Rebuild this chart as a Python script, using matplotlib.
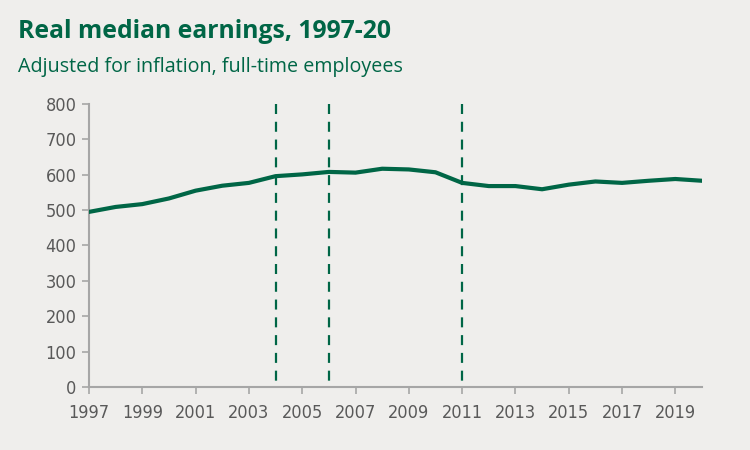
import matplotlib
matplotlib.use("Agg")
import matplotlib.pyplot as plt

years = list(range(1997, 2021))
earnings = [495, 509, 517, 533, 555, 569, 577, 596, 601, 608, 606, 617, 615, 607,
            577, 568, 568, 559, 572, 581, 577, 583, 588, 583]
marker_years = [2004, 2006, 2011]
y_ticks = [0, 100, 200, 300, 400, 500, 600, 700, 800]
x_ticks = list(range(1997, 2021, 2))

GREEN = "#006646"
BG = "#efeeec"
GREY = "#a6a6a6"
TXT = "#595959"

fig = plt.figure(figsize=(7.5, 4.5), dpi=100, facecolor=BG)
ax = fig.add_axes([89/750, 1-387/450, (702-89)/750, (387-104)/450], facecolor=BG)

ax.plot(years, earnings, color=GREEN, lw=3, solid_joinstyle="round", zorder=3)
for y in marker_years:
    ax.plot([y, y], [y_ticks[-1], y_ticks[0]], color=GREEN, lw=1.6,
            ls=(0, (4.5, 3.5)), zorder=2, clip_on=False)

ax.set_xlim(1997, 2020)
ax.set_ylim(0, 800)
ax.set_yticks(y_ticks)
ax.set_xticks(x_ticks)
ax.set_yticklabels([str(v) for v in y_ticks], fontsize=13, color=TXT,
                   family="DejaVu Sans", fontstretch="condensed")
ax.set_xticklabels([str(v) for v in x_ticks], fontsize=13, color=TXT,
                   family="DejaVu Sans", fontstretch="condensed")
for s in ["top", "right"]:
    ax.spines[s].set_visible(False)
for s in ["left", "bottom"]:
    ax.spines[s].set_color(GREY)
    ax.spines[s].set_linewidth(1.5)
ax.tick_params(axis="both", color=GREY, width=1.2, length=5)
ax.tick_params(axis="x", pad=7)
ax.tick_params(axis="y", pad=4)

fig.text(18/750, 1-32/450, "Real median earnings, 1997-20", fontsize=17.8, fontweight="bold",
         color=GREEN, family=["Open Sans", "DejaVu Sans"], va="center", ha="left")
fig.text(18/750, 1-67/450, "Adjusted for inflation, full-time employees", fontsize=14.2,
         color=GREEN, family=["Open Sans", "DejaVu Sans"], va="center", ha="left")

fig.savefig("out.png", dpi=100, facecolor=BG)
